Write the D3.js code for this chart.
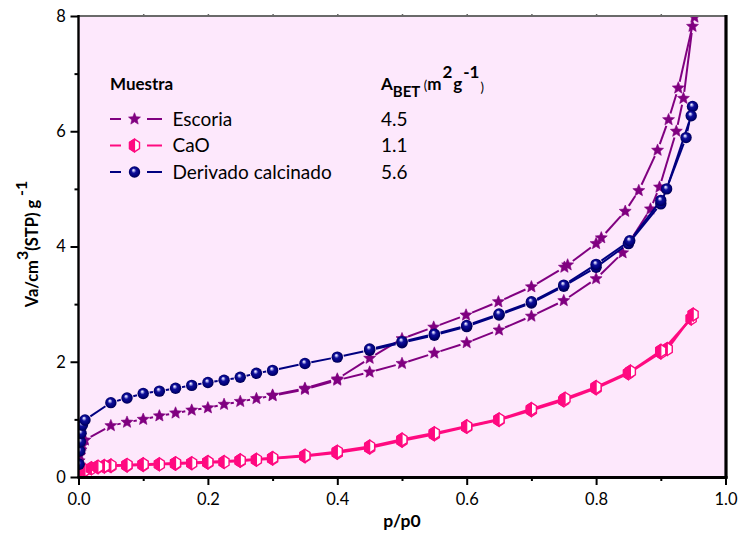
<!DOCTYPE html>
<html>
<head>
<meta charset="utf-8">
<script src="https://cdn.jsdelivr.net/npm/d3@7"></script>
<style>
  html, body { margin: 0; padding: 0; background: #ffffff; }
  svg { display: block; font-family: Lato, "Noto Sans", sans-serif; }
</style>
</head>
<body>
<svg id="chart" width="739" height="536"></svg>
<script>
// N2 isotherms: relative pressure p/p0 vs adsorbed volume (cm3 STP / g)
const seriesNames = ["Escoria", "CaO", "Derivado calcinado"];
const betAreas = ["4.5", "1.1", "5.6"];
const xTickLabels = [0, 0.2, 0.4, 0.6, 0.8, 1.0];
const yTickLabels = [0, 2, 4, 6, 8];

// Escoria
const escoriaAdsP = [0.001, 0.002, 0.004, 0.006, 0.01, 0.05, 0.075, 0.1, 0.125, 0.15, 0.175, 0.2, 0.225, 0.25, 0.275, 0.3, 0.35, 0.4, 0.45, 0.5, 0.55, 0.6, 0.65, 0.7, 0.75, 0.8, 0.841, 0.884, 0.898, 0.924, 0.935, 0.949];
const escoriaAdsV = [0.28, 0.38, 0.47, 0.55, 0.64, 0.89, 0.95, 1.0, 1.06, 1.11, 1.16, 1.2, 1.26, 1.31, 1.36, 1.41, 1.52, 1.68, 1.82, 1.97, 2.15, 2.33, 2.55, 2.79, 3.06, 3.44, 3.89, 4.65, 5.03, 6.0, 6.57, 7.82];
const escoriaDesP = [0.952, 0.927, 0.912, 0.895, 0.866, 0.845, 0.808, 0.8, 0.756, 0.751, 0.7, 0.649, 0.599, 0.549, 0.5, 0.45, 0.4, 0.35, 0.3];
const escoriaDesV = [7.98, 6.75, 6.2, 5.67, 4.97, 4.61, 4.15, 4.05, 3.68, 3.64, 3.3, 3.04, 2.81, 2.6, 2.4, 2.06, 1.7, 1.54, 1.42];

// CaO
const caoAdsP = [0.001, 0.005, 0.01, 0.02, 0.03, 0.04, 0.05, 0.075, 0.1, 0.125, 0.15, 0.175, 0.2, 0.225, 0.25, 0.275, 0.3, 0.35, 0.4, 0.45, 0.5, 0.55, 0.6, 0.65, 0.7, 0.75, 0.8, 0.85, 0.9, 0.947];
const caoAdsV = [0.02, 0.08, 0.12, 0.15, 0.17, 0.18, 0.19, 0.2, 0.21, 0.22, 0.23, 0.24, 0.25, 0.26, 0.28, 0.3, 0.32, 0.36, 0.42, 0.51, 0.63, 0.74, 0.87, 0.99, 1.16, 1.33, 1.54, 1.8, 2.16, 2.75];
const caoDesP = [0.95, 0.91, 0.9, 0.853, 0.8, 0.752, 0.7, 0.65, 0.6, 0.55, 0.5, 0.45, 0.4, 0.35, 0.3, 0.25, 0.2, 0.15, 0.1, 0.075, 0.05, 0.04, 0.03];
const caoDesV = [2.82, 2.22, 2.19, 1.83, 1.56, 1.36, 1.18, 1.0, 0.88, 0.76, 0.65, 0.53, 0.44, 0.37, 0.33, 0.29, 0.26, 0.24, 0.22, 0.21, 0.2, 0.19, 0.18];

// Derivado calcinado
const derivAdsP = [0.001, 0.002, 0.003, 0.004, 0.006, 0.01, 0.05, 0.075, 0.1, 0.125, 0.15, 0.175, 0.2, 0.225, 0.25, 0.275, 0.3, 0.35, 0.4, 0.45, 0.5, 0.55, 0.6, 0.65, 0.7, 0.75, 0.8, 0.85, 0.9, 0.939, 0.949];
const derivAdsV = [0.22, 0.45, 0.61, 0.76, 0.9, 0.99, 1.29, 1.37, 1.45, 1.49, 1.54, 1.59, 1.64, 1.68, 1.73, 1.8, 1.85, 1.97, 2.08, 2.2, 2.33, 2.46, 2.61, 2.81, 3.02, 3.31, 3.64, 4.05, 4.74, 5.89, 6.43];
const derivDesP = [0.947, 0.909, 0.9, 0.852, 0.8, 0.75, 0.7, 0.65, 0.6, 0.55, 0.5, 0.45];
const derivDesV = [6.27, 5.0, 4.8, 4.1, 3.69, 3.33, 3.04, 2.83, 2.63, 2.48, 2.35, 2.22];

const colors = { esc: "#800080", cao: "#ff0a80", der: "#000080" };

const svg = d3.select("#chart");
const x = d3.scaleLinear().domain([0, 1]).range([78.5, 725.5]);
const y = d3.scaleLinear().domain([0, 8]).range([477, 16]);

const defs = svg.append("defs");
defs.append("clipPath").attr("id", "plotClip").append("rect")
  .attr("x", x(0)).attr("y", y(8)).attr("width", x(1) - x(0)).attr("height", y(0) - y(8));
const grad = defs.append("radialGradient").attr("id", "ball")
  .attr("cx", "50%").attr("cy", "50%").attr("r", "55%").attr("fx", "40%").attr("fy", "32%");
grad.append("stop").attr("offset", "0%").attr("stop-color", "#ffffff");
grad.append("stop").attr("offset", "14%").attr("stop-color", "#b8b8f0");
grad.append("stop").attr("offset", "38%").attr("stop-color", "#10109a");
grad.append("stop").attr("offset", "75%").attr("stop-color", "#000078");
grad.append("stop").attr("offset", "100%").attr("stop-color", "#00003c");

// plot background
svg.append("rect")
  .attr("x", x(0)).attr("y", y(8)).attr("width", x(1) - x(0)).attr("height", y(0) - y(8))
  .attr("fill", "#fde8fc");

// marker shapes
function starPath(R) {
  const r = R * 0.45, pts = [];
  for (let k = 0; k < 10; k++) {
    const a = -Math.PI / 2 + k * Math.PI / 5, rr = k % 2 ? r : R;
    pts.push([rr * Math.cos(a), rr * Math.sin(a)]);
  }
  return "M" + pts.map(p => p.join(",")).join("L") + "Z";
}
function hexPts(R) {
  const pts = [];
  for (let k = 0; k < 6; k++) {
    const a = -Math.PI / 2 + k * Math.PI / 3;
    pts.push([R * 0.9 * Math.cos(a), R * Math.sin(a)]);
  }
  return pts;
}
function drawMarker(g, kind, cx, cy) {
  if (kind === "esc") {
    g.append("path").attr("d", starPath(6.3)).attr("transform", `translate(${cx},${cy})`)
      .attr("fill", colors.esc).attr("stroke", colors.esc).attr("stroke-width", 0.6);
  } else if (kind === "cao") {
    const h = hexPts(6.4);
    const gg = g.append("g").attr("transform", `translate(${cx},${cy})`);
    gg.append("path").attr("d", "M" + h.map(p => p.join(",")).join("L") + "Z")
      .attr("fill", "#ffffff").attr("stroke", colors.cao).attr("stroke-width", 1.4);
    const left = [h[3], h[4], h[5], h[0]];
    gg.append("path").attr("d", "M" + left.map(p => p.join(",")).join("L") + "Z")
      .attr("fill", colors.cao).attr("stroke", colors.cao).attr("stroke-width", 1.2);
  } else {
    g.append("circle").attr("cx", cx).attr("cy", cy).attr("r", 5.7)
      .attr("fill", "url(#ball)");
  }
}

// line segments broken around each symbol
function drawBranch(g, kind, ps, vs, gap, width) {
  const pts = ps.map((p, i) => [x(p), y(vs[i])]);
  const segs = [];
  for (let i = 0; i < pts.length - 1; i++) {
    const [ax, ay] = pts[i], [bx, by] = pts[i + 1];
    const dx = bx - ax, dy = by - ay, len = Math.hypot(dx, dy);
    if (len > 2 * gap + 0.5) {
      const ux = dx / len, uy = dy / len;
      segs.push([ax + ux * gap, ay + uy * gap, bx - ux * gap, by - uy * gap]);
    }
  }
  g.selectAll(null).data(segs).enter().append("line")
    .attr("x1", d => d[0]).attr("y1", d => d[1]).attr("x2", d => d[2]).attr("y2", d => d[3])
    .attr("stroke", colors[kind]).attr("stroke-width", width);
  return pts;
}

const plot = svg.append("g").attr("clip-path", "url(#plotClip)");

const series = [
  { kind: "cao", branches: [[caoAdsP, caoAdsV], [caoDesP, caoDesV]], gap: 5.5, w: 2.4 },
  { kind: "esc", branches: [[escoriaAdsP, escoriaAdsV], [escoriaDesP, escoriaDesV]], gap: 6.5, w: 2 },
  { kind: "der", branches: [[derivAdsP, derivAdsV], [derivDesP, derivDesV]], gap: 6.5, w: 2 }
];
series.forEach(s => {
  const lg = plot.append("g");
  const mg = plot.append("g");
  s.branches.forEach(([ps, vs]) => {
    const pts = drawBranch(lg, s.kind, ps, vs, s.gap, s.w);
    pts.forEach(([px, py]) => drawMarker(mg, s.kind, px, py));
  });
});

// axes
const fmt = d3.format(".1f");
const xAxis = svg.append("g").attr("transform", `translate(0,${y(0)})`)
  .call(d3.axisBottom(x).tickValues(xTickLabels).tickFormat(fmt).tickSize(8).tickSizeOuter(0));
const xMinor = svg.append("g").attr("transform", `translate(0,${y(0)})`)
  .call(d3.axisBottom(x).tickValues([0.1, 0.3, 0.5, 0.7, 0.9]).tickFormat("").tickSize(4).tickSizeOuter(0));
const yAxis = svg.append("g").attr("transform", `translate(${x(0)},0)`)
  .call(d3.axisLeft(y).tickValues(yTickLabels).tickFormat(d3.format("d")).tickSize(8).tickSizeOuter(0));
const yMinor = svg.append("g").attr("transform", `translate(${x(0)},0)`)
  .call(d3.axisLeft(y).tickValues([1, 3, 5, 7]).tickFormat("").tickSize(4).tickSizeOuter(0));
const topTicks = svg.append("g").attr("transform", `translate(0,${y(8)})`)
  .call(d3.axisTop(x).tickValues(d3.range(1, 10).map(k => k / 10)).tickFormat("").tickSize(2).tickSizeOuter(0));
topTicks.selectAll("line").attr("stroke", "#666").attr("stroke-width", 1.5);
topTicks.select(".domain").remove();

[xAxis, xMinor, yAxis, yMinor].forEach(a => {
  a.selectAll(".domain").remove();
  a.selectAll(".tick line").attr("stroke", "#000").attr("stroke-width", 2);
});
xAxis.selectAll("text").attr("font-size", 16.5).attr("fill", "#000").attr("dy", "1.05em")
  .attr("font-family", "Lato, sans-serif");
yAxis.selectAll("text").attr("font-size", 16.5).attr("fill", "#000").attr("dx", "-0.1em")
  .attr("font-family", "Lato, sans-serif");

// frame
svg.append("line").attr("x1", x(0)).attr("x2", x(1)).attr("y1", y(8)).attr("y2", y(8))
  .attr("stroke", "#6a6a6a").attr("stroke-width", 2);
svg.append("line").attr("x1", x(1) + 0.5).attr("x2", x(1) + 0.5).attr("y1", y(8) - 1).attr("y2", y(0) + 1.5)
  .attr("stroke", "#000").attr("stroke-width", 3.2);
svg.append("line").attr("x1", x(0)).attr("x2", x(0)).attr("y1", y(8) - 1).attr("y2", y(0) + 1)
  .attr("stroke", "#000").attr("stroke-width", 2.4);
svg.append("line").attr("x1", x(0) - 1).attr("x2", x(1) + 2).attr("y1", y(0) + 0.5).attr("y2", y(0) + 0.5)
  .attr("stroke", "#000").attr("stroke-width", 2.8);

// axis titles
svg.append("text").attr("x", (x(0) + x(1)) / 2).attr("y", 527).attr("text-anchor", "middle")
  .attr("font-size", 17.5).attr("font-weight", "bold").text("p/p0");
const yt = svg.append("text").attr("transform", "translate(38,244) rotate(-90)")
  .attr("text-anchor", "middle").attr("font-size", 16.5).attr("font-weight", "bold");
yt.append("tspan").text("Va/cm");
yt.append("tspan").attr("dy", -10).attr("font-size", 16).text("3");
yt.append("tspan").attr("dy", 10).text("(STP) g");
yt.append("tspan").attr("dy", -11).attr("font-size", 16).text(" -1");

// legend
const leg = svg.append("g");
leg.append("text").attr("x", 110).attr("y", 89.5).attr("font-size", 17).attr("font-weight", "bold").text("Muestra");
const head = leg.append("text").attr("x", 381).attr("y", 89.5).attr("font-size", 17).attr("font-weight", "bold");
head.append("tspan").text("A");
head.append("tspan").attr("dy", 7).attr("font-size", 15).text("BET");
head.append("tspan").attr("dy", -7).attr("font-size", 13).attr("font-weight", "normal").text(" (");
head.append("tspan").text("m");
head.append("tspan").attr("dy", -12).attr("dx", 1).text("2");
head.append("tspan").attr("dy", 12).attr("dx", 1).text("g");
head.append("tspan").attr("dy", -12).attr("dx", 1).text("-1");
head.append("tspan").attr("dy", 14).attr("dx", 1).attr("font-size", 13).attr("font-weight", "normal").text(")");

const legKinds = ["esc", "cao", "der"];
const legY = [119, 145.5, 172];
legKinds.forEach((k, i) => {
  const cy = legY[i];
  leg.append("line").attr("x1", 110).attr("x2", 121).attr("y1", cy).attr("y2", cy)
    .attr("stroke", colors[k]).attr("stroke-width", 2);
  leg.append("line").attr("x1", 147).attr("x2", 162).attr("y1", cy).attr("y2", cy)
    .attr("stroke", colors[k]).attr("stroke-width", 2);
  drawMarker(leg, k, 134.5, cy);
  leg.append("text").attr("x", 172.5).attr("y", cy + 6.5).attr("font-size", 19).text(seriesNames[i]);
  leg.append("text").attr("x", 381).attr("y", cy + 6.5).attr("font-size", 19).text(betAreas[i]);
});
</script>
</body>
</html>
